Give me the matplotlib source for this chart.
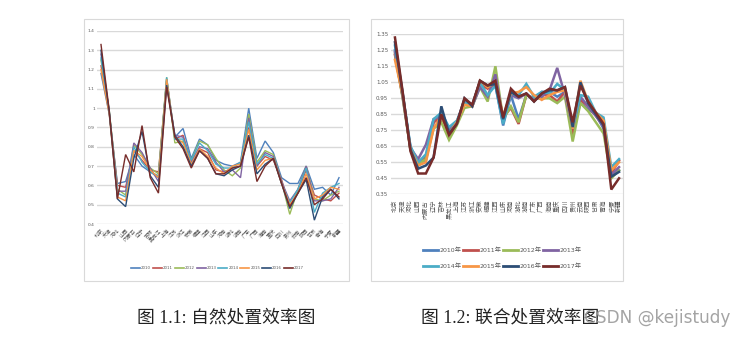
import matplotlib
matplotlib.use("Agg")
import matplotlib.pyplot as plt
from matplotlib.lines import Line2D
from matplotlib.patches import Rectangle

plt.rcParams['font.family'] = ['DejaVu Sans', 'Noto Sans CJK SC']

provinces = ['北京', '天津', '河北', '山西', '内蒙古', '辽宁', '吉林', '黑龙江', '上海', '江苏',
             '浙江', '安徽', '福建', '江西', '山东', '河南', '湖北', '湖南', '广东', '广西',
             '海南', '重庆', '四川', '贵州', '云南', '陕西', '甘肃', '青海', '宁夏', '新疆']
years = ['2010', '2011', '2012', '2013', '2014', '2015', '2016', '2017']
colors = ['#4F81BD', '#C0504D', '#9BBB59', '#8064A2', '#4BACC6', '#F79646', '#2C4D75', '#772C2A']

# Figure 1.1 natural disposal efficiency
nat_2010 = [1.18, 0.97, 0.61, 0.62, 0.76, 0.70, 0.67, 0.64, 1.15, 0.85, 0.895, 0.74, 0.84, 0.81, 0.73, 0.71, 0.70, 0.72, 1.00, 0.74, 0.83, 0.77, 0.64, 0.61, 0.61, 0.70, 0.58, 0.59, 0.55, 0.64]
nat_2011 = [1.22, 0.98, 0.60, 0.59, 0.78, 0.73, 0.68, 0.67, 1.14, 0.84, 0.86, 0.72, 0.79, 0.77, 0.68, 0.67, 0.69, 0.70, 0.90, 0.70, 0.75, 0.73, 0.63, 0.49, 0.57, 0.68, 0.55, 0.53, 0.52, 0.56]
nat_2012 = [1.25, 0.99, 0.58, 0.55, 0.81, 0.76, 0.69, 0.66, 1.16, 0.82, 0.83, 0.73, 0.83, 0.81, 0.74, 0.68, 0.65, 0.69, 0.97, 0.72, 0.78, 0.76, 0.62, 0.45, 0.58, 0.70, 0.53, 0.52, 0.55, 0.57]
nat_2013 = [1.28, 0.98, 0.57, 0.57, 0.82, 0.77, 0.69, 0.62, 1.13, 0.86, 0.85, 0.72, 0.80, 0.79, 0.72, 0.67, 0.68, 0.64, 0.95, 0.70, 0.77, 0.75, 0.62, 0.52, 0.58, 0.70, 0.52, 0.52, 0.53, 0.59]
nat_2014 = [1.26, 0.99, 0.56, 0.54, 0.80, 0.72, 0.67, 0.65, 1.16, 0.84, 0.84, 0.73, 0.82, 0.78, 0.71, 0.69, 0.69, 0.72, 0.93, 0.71, 0.76, 0.74, 0.61, 0.51, 0.58, 0.69, 0.46, 0.56, 0.59, 0.61]
nat_2015 = [1.20, 0.97, 0.54, 0.52, 0.78, 0.75, 0.68, 0.64, 1.15, 0.85, 0.82, 0.71, 0.79, 0.75, 0.69, 0.66, 0.70, 0.71, 0.89, 0.68, 0.73, 0.74, 0.61, 0.50, 0.56, 0.66, 0.53, 0.55, 0.59, 0.58]
nat_2016 = [1.30, 0.98, 0.53, 0.49, 0.74, 0.88, 0.65, 0.59, 1.12, 0.86, 0.80, 0.70, 0.78, 0.74, 0.66, 0.65, 0.68, 0.70, 0.86, 0.66, 0.71, 0.74, 0.61, 0.48, 0.56, 0.63, 0.42, 0.54, 0.58, 0.53]
nat_2017 = [1.33, 0.99, 0.53, 0.76, 0.67, 0.91, 0.64, 0.56, 1.11, 0.85, 0.79, 0.69, 0.78, 0.74, 0.66, 0.66, 0.69, 0.70, 0.85, 0.62, 0.70, 0.74, 0.61, 0.49, 0.56, 0.64, 0.50, 0.53, 0.58, 0.54]

# Figure 1.2 joint disposal efficiency
joint_2010 = [1.25, 0.97, 0.65, 0.53, 0.56, 0.80, 0.86, 0.76, 0.80, 0.93, 0.91, 1.05, 1.02, 1.03, 0.78, 0.97, 0.82, 0.97, 0.95, 0.99, 0.99, 0.96, 0.99, 0.74, 0.92, 0.88, 0.85, 0.76, 0.46, 0.50]
joint_2011 = [1.22, 0.96, 0.64, 0.55, 0.58, 0.80, 0.83, 0.74, 0.79, 0.92, 0.90, 1.04, 1.01, 1.04, 0.83, 0.89, 0.79, 0.97, 0.95, 0.97, 0.97, 0.93, 0.99, 0.72, 0.94, 0.90, 0.84, 0.78, 0.48, 0.56]
joint_2012 = [1.23, 0.95, 0.63, 0.54, 0.57, 0.76, 0.80, 0.69, 0.78, 0.89, 0.90, 1.02, 0.93, 1.15, 0.82, 0.90, 0.80, 0.97, 0.95, 0.95, 0.95, 0.92, 0.96, 0.68, 0.92, 0.87, 0.80, 0.73, 0.45, 0.50]
joint_2013 = [1.24, 0.96, 0.64, 0.57, 0.66, 0.82, 0.84, 0.75, 0.80, 0.94, 0.90, 1.02, 0.96, 1.10, 0.82, 0.97, 0.95, 0.98, 0.94, 0.96, 1.00, 1.14, 0.97, 0.77, 0.96, 0.90, 0.84, 0.77, 0.47, 0.52]
joint_2014 = [1.28, 0.98, 0.65, 0.55, 0.60, 0.82, 0.86, 0.77, 0.81, 0.92, 0.91, 1.05, 0.97, 1.03, 0.79, 0.98, 0.97, 1.04, 0.96, 0.99, 0.98, 1.04, 1.00, 0.76, 0.97, 0.96, 0.86, 0.83, 0.52, 0.57]
joint_2015 = [1.19, 0.97, 0.63, 0.53, 0.55, 0.76, 0.84, 0.73, 0.80, 0.91, 0.90, 1.06, 1.02, 1.05, 0.84, 0.98, 0.99, 1.02, 0.97, 0.94, 0.97, 0.99, 1.00, 0.76, 1.06, 0.93, 0.86, 0.81, 0.50, 0.55]
joint_2016 = [1.30, 0.98, 0.63, 0.51, 0.53, 0.58, 0.90, 0.73, 0.79, 0.95, 0.90, 1.06, 1.03, 1.04, 0.82, 0.99, 0.96, 0.98, 0.93, 0.98, 1.00, 1.00, 1.02, 0.77, 1.05, 0.92, 0.85, 0.78, 0.46, 0.49]
joint_2017 = [1.33, 0.99, 0.62, 0.48, 0.48, 0.58, 0.85, 0.72, 0.79, 0.95, 0.91, 1.06, 1.03, 1.06, 0.83, 1.01, 0.96, 0.98, 0.93, 0.98, 1.01, 1.00, 1.02, 0.80, 1.03, 0.93, 0.86, 0.79, 0.38, 0.45]

nat_series = [nat_2010, nat_2011, nat_2012, nat_2013, nat_2014, nat_2015, nat_2016, nat_2017]
joint_series = [joint_2010, joint_2011, joint_2012, joint_2013, joint_2014, joint_2015, joint_2016, joint_2017]

nat_yticks = [0.4, 0.5, 0.6, 0.7, 0.8, 0.9, 1.0, 1.1, 1.2, 1.3, 1.4]
nat_yticklabels = ['0.4', '0.5', '0.6', '0.7', '0.8', '0.9', '1', '1.1', '1.2', '1.3', '1.4']
joint_yticks = [0.35, 0.45, 0.55, 0.65, 0.75, 0.85, 0.95, 1.05, 1.15, 1.25, 1.35]
joint_yticklabels = ['0.35', '0.45', '0.55', '0.65', '0.75', '0.85', '0.95', '1.05', '1.15', '1.25', '1.35']

caption1 = '图 1.1: 自然处置效率图'
caption2 = '图 1.2: 联合处置效率图'
watermark = 'CSDN @kejistudy'

W, H = 749, 342
fig = plt.figure(figsize=(W / 100, H / 100), dpi=100)
fig.patch.set_facecolor('white')


def frac_rect(x0, y0, x1, y1):
    return [x0 / W, 1 - y1 / H, (x1 - x0) / W, (y1 - y0) / H]


# chart frames
for (x0, y0, x1, y1) in [(84, 19, 349, 281), (371, 19, 623, 281)]:
    fig.patches.append(Rectangle((x0 / W, 1 - y1 / H), (x1 - x0) / W, (y1 - y0) / H,
                                 transform=fig.transFigure, facecolor='none',
                                 edgecolor='#d9d9d9', lw=0.8, zorder=-5))

tick_color = '#595959'

# ---------- left chart ----------
ax1 = fig.add_axes(frac_rect(96.9, 31, 343.1, 224))
x = list(range(len(provinces)))
for s, c in zip(nat_series, colors):
    ax1.plot(x, s, color=c, lw=1.0, solid_joinstyle='miter')
ax1.set_xlim(-0.5, len(provinces) - 0.5)
ax1.set_ylim(0.4, 1.4)
ax1.set_yticks(nat_yticks)
ax1.set_yticklabels(nat_yticklabels, fontsize=3.2, color=tick_color)
ax1.set_xticks(x)
ax1.set_xticklabels(provinces, rotation=45, ha='right', va='top', rotation_mode='anchor',
                    fontsize=3.7, color=tick_color)
ax1.tick_params(axis='both', length=0)
ax1.tick_params(axis='y', pad=1.5)
ax1.tick_params(axis='x', pad=3)
ax1.yaxis.grid(True, color='#d9d9d9', lw=1.0)
ax1.set_axisbelow(True)
for sp in ax1.spines.values():
    sp.set_visible(False)
ax1.patch.set_alpha(0)

h1 = [Line2D([0], [0], color=c, lw=1.2) for c in colors]
fig.legend(h1, years, loc='center', bbox_to_anchor=(217.5 / W, 1 - 268 / H), ncol=8,
           fontsize=2.8, frameon=False, handlelength=2.3, handletextpad=0.3,
           columnspacing=0.45, labelcolor=tick_color)

# ---------- right chart ----------
ax2 = fig.add_axes(frac_rect(391.1, 34.3, 622.9, 194.3))
for s, c in zip(joint_series, colors):
    ax2.plot(x, s, color=c, lw=1.8, solid_joinstyle='miter')
ax2.set_xlim(-0.5, len(provinces) - 0.5)
ax2.set_ylim(0.35, 1.35)
ax2.set_yticks(joint_yticks)
ax2.set_yticklabels(joint_yticklabels, fontsize=4.0, color=tick_color)
ax2.set_xticks(x)
ax2.set_xticklabels(provinces, rotation=90, ha='center', va='top', fontsize=4.5, color=tick_color)
ax2.tick_params(axis='both', length=0)
ax2.tick_params(axis='y', pad=2)
ax2.tick_params(axis='x', pad=4)
ax2.yaxis.grid(True, color='#d9d9d9', lw=1.0)
ax2.set_axisbelow(True)
for sp in ax2.spines.values():
    sp.set_visible(False)
ax2.patch.set_alpha(0)

h2 = [Line2D([0], [0], color=c, lw=2.0) for c in colors]
ylabels = [y + '年' for y in years]
fig.legend(h2[:4], ylabels[:4], loc='center', bbox_to_anchor=(502.5 / W, 1 - 250 / H), ncol=4,
           fontsize=4.5, frameon=False, handlelength=2.4, handletextpad=0.2,
           columnspacing=0.3, labelcolor=tick_color)
fig.legend(h2[4:], ylabels[4:], loc='center', bbox_to_anchor=(502.5 / W, 1 - 266.5 / H), ncol=4,
           fontsize=4.5, frameon=False, handlelength=2.4, handletextpad=0.2,
           columnspacing=0.3, labelcolor=tick_color)

# ---------- captions ----------
cap_font = ['Liberation Serif', 'Noto Sans CJK SC']
fig.text(137 / W, 1 - 318 / H, caption1, fontsize=12.8, family=cap_font, ha='left', va='center', color='#222222')
fig.text(421 / W, 1 - 318 / H, caption2, fontsize=12.8, family=cap_font, ha='left', va='center', color='#222222')
fig.text(584 / W, 1 - 318 / H, watermark, fontsize=12.2, family=['DejaVu Sans'], ha='left', va='center',
         color='#9a9a9a', alpha=0.9)

fig.savefig('out.png', dpi=100, facecolor='white')
